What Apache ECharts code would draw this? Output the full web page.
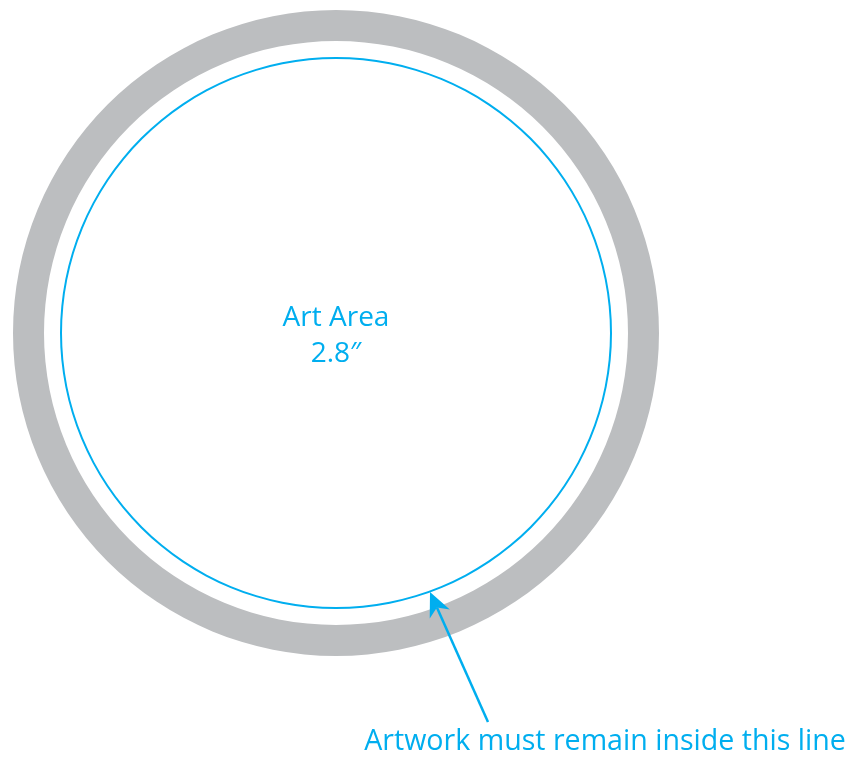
<!DOCTYPE html>
<html>
<head>
<meta charset="utf-8">
<script src="https://cdn.jsdelivr.net/npm/echarts@6/dist/echarts.min.js"></script>
<style>html,body{margin:0;padding:0;background:#fff;}#c{width:848px;height:757px;}</style>
</head>
<body>
<div id="c"></div>
<script>
// Data
var ringLabels = ['Bleed ring'];
var ringValues = [1];
var artLabels = ['Art Area'];
var artValues = [1];
var centerTitle = 'Art Area';
var centerSize = '2.8\u2033';
var noteText = 'Artwork must remain inside this line';

var BLUE = '#00AEEF', GREY = '#BCBEC0';
var FONT = 'Open Sans';
var cx = 336, cy = 333;

// arrow geometry
var tip = [430, 592], tail = [488, 722];
var dx = tip[0] - tail[0], dy = tip[1] - tail[1];
var len = Math.sqrt(dx * dx + dy * dy);
var ux = dx / len, uy = dy / len, px = -uy, py = ux;
var headLen = 24, headW = 11, notch = 17;
var b1 = [tip[0] - headLen * ux + headW * px, tip[1] - headLen * uy + headW * py];
var b2 = [tip[0] - headLen * ux - headW * px, tip[1] - headLen * uy - headW * py];
var bn = [tip[0] - notch * ux, tip[1] - notch * uy];

function txt(x, y, s, size) {
  return {type: 'text', x: x, y: y, z: 100, style: {text: s, fill: BLUE, fontSize: size, fontFamily: FONT, align: 'center', verticalAlign: 'middle'}};
}

var chart = echarts.init(document.getElementById('c'), null, {renderer: 'canvas'});
chart.setOption({
  animation: false,
  backgroundColor: '#fff',
  series: [
    {
      type: 'pie', silent: true, center: [cx, cy], radius: [292, 323], z: 1,
      label: {show: false}, labelLine: {show: false},
      itemStyle: {color: GREY, borderWidth: 0},
      data: ringLabels.map(function (n, i) { return {name: n, value: ringValues[i]}; })
    },
    {
      type: 'pie', silent: true, center: [cx, cy], radius: [274, 276], z: 2,
      label: {show: false}, labelLine: {show: false},
      itemStyle: {color: BLUE, borderWidth: 0},
      data: artLabels.map(function (n, i) { return {name: n, value: artValues[i]}; })
    }
  ],
  graphic: {
    elements: [
      txt(cx, 318, centerTitle, 28),
      txt(cx, 354, centerSize, 28),
      txt(605, 742, noteText, 28.6),
      {type: 'line', z: 100, shape: {x1: tail[0], y1: tail[1], x2: bn[0], y2: bn[1]}, style: {stroke: BLUE, lineWidth: 2.5}},
      {type: 'polygon', z: 100, shape: {points: [tip, b1, bn, b2]}, style: {fill: BLUE}}
    ]
  }
});
</script>
</body>
</html>
